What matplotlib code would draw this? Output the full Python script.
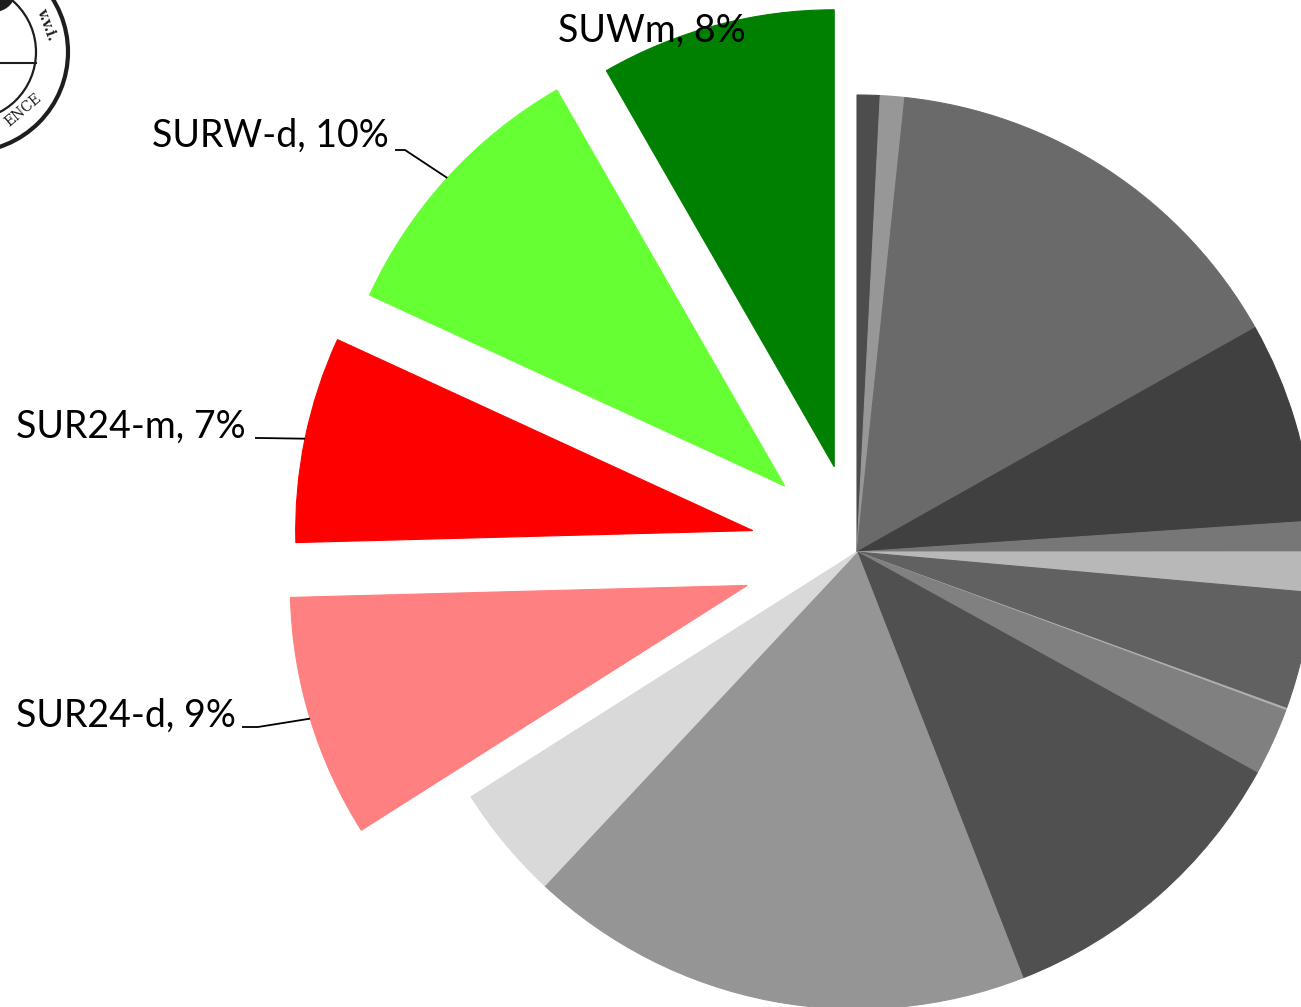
import numpy as np
import matplotlib.pyplot as plt
from matplotlib.patches import Circle

# slice shares (percent), clockwise from 12 o'clock
grey_values = [0.81, 0.86, 15.17, 7.08, 1.08, 1.42, 4.14, 0.08, 2.39, 11.06, 17.89, 4.03]
grey_colors = ['#4d4d4d', '#979797', '#6a6a6a', '#404040', '#777777', '#b8b8b8',
               '#616161', '#b0b0b0', '#808080', '#505050', '#959595', '#d9d9d9']
labels = ['SUR24-d', 'SUR24-m', 'SURW-d', 'SUWm']
label_values = [9, 7, 10, 8]            # printed percentages
label_shares = [8.58, 7.28, 9.83, 8.31]  # slice sizes as drawn
label_colors = ['#ff8080', '#ff0000', '#66ff33', '#008000']
label_explode = [0.251, 0.233, 0.214, 0.193]

values = grey_values + label_shares
colors = grey_colors + label_colors
explode = [0] * len(grey_values) + label_explode

W, H = 1301, 1007
CX, CY, R = 857, 552, 457   # pie centre / radius in pixels


def px(x, y):
    """pixel position -> data coords"""
    return (x - CX) / R, (CY - y) / R


fig = plt.figure(figsize=(W / 100, H / 100), dpi=100)
ax = fig.add_axes([0, 0, 1, 1])
wedges, _ = ax.pie(values, colors=colors, explode=explode, startangle=90,
                   counterclock=False, radius=1,
                   wedgeprops=dict(linewidth=0.8))
for w in wedges:
    w.set_edgecolor(w.get_facecolor())

x0, y0 = px(0, H)
x1, y1 = px(W, 0)
ax.set_xlim(x0, x1)
ax.set_ylim(y0, y1)
ax.set_aspect('auto')
ax.axis('off')

font = dict(family=['Lato', 'DejaVu Sans'], fontsize=27, color='black')

# label text (right end, vertical centre) and leader start / elbow, in pixels
label_pos = {'SUR24-d': ((236, 716), (242, 727), (258, 727)),
             'SUR24-m': ((246, 427), (255, 438), (260, 438)),
             'SURW-d': ((389, 136), (395, 150), (405, 150)),
             'SUWm': ((746, 31), None, None)}

for name, val, w in zip(labels, label_values, wedges[len(grey_values):]):
    txt_pt, start, elbow = label_pos[name]
    tx, ty = px(*txt_pt)
    ax.text(tx, ty, f'{name}, {val}%', ha='right', va='center', **font)
    if start is None:
        continue
    mid = np.deg2rad((w.theta1 + w.theta2) / 2)
    cx, cy = w.center
    ex, ey = cx + w.r * np.cos(mid), cy + w.r * np.sin(mid)
    sx, sy = px(*start)
    bx, by = px(*elbow)
    ax.plot([sx, bx, ex], [sy, by, ey], color='black', lw=1.3, solid_capstyle='butt')

# partial institute seal in the top left corner
ink = '#1e1e1e'
sc = px(-32, 52)
ax.add_patch(Circle(sc, 100 / R, fill=False, lw=3, ec=ink))
ax.add_patch(Circle(sc, 68 / R, fill=False, lw=1.6, ec=ink))
ax.plot([px(0, 63)[0], px(36, 63)[0]], [px(0, 63)[1]] * 2, color=ink, lw=1.5)
ax.add_patch(Circle(px(-6, -10), 22 / R, color=ink, lw=0))
ax.text(*px(23, 110), 'ENCE', rotation=40, fontsize=10, family='DejaVu Serif',
        ha='center', va='center', color=ink)
ax.text(*px(47, 24), 'v.v.i.', rotation=-70, fontsize=10, family='DejaVu Serif',
        weight='bold', ha='center', va='center', color=ink)

fig.savefig('out.png', dpi=100)
